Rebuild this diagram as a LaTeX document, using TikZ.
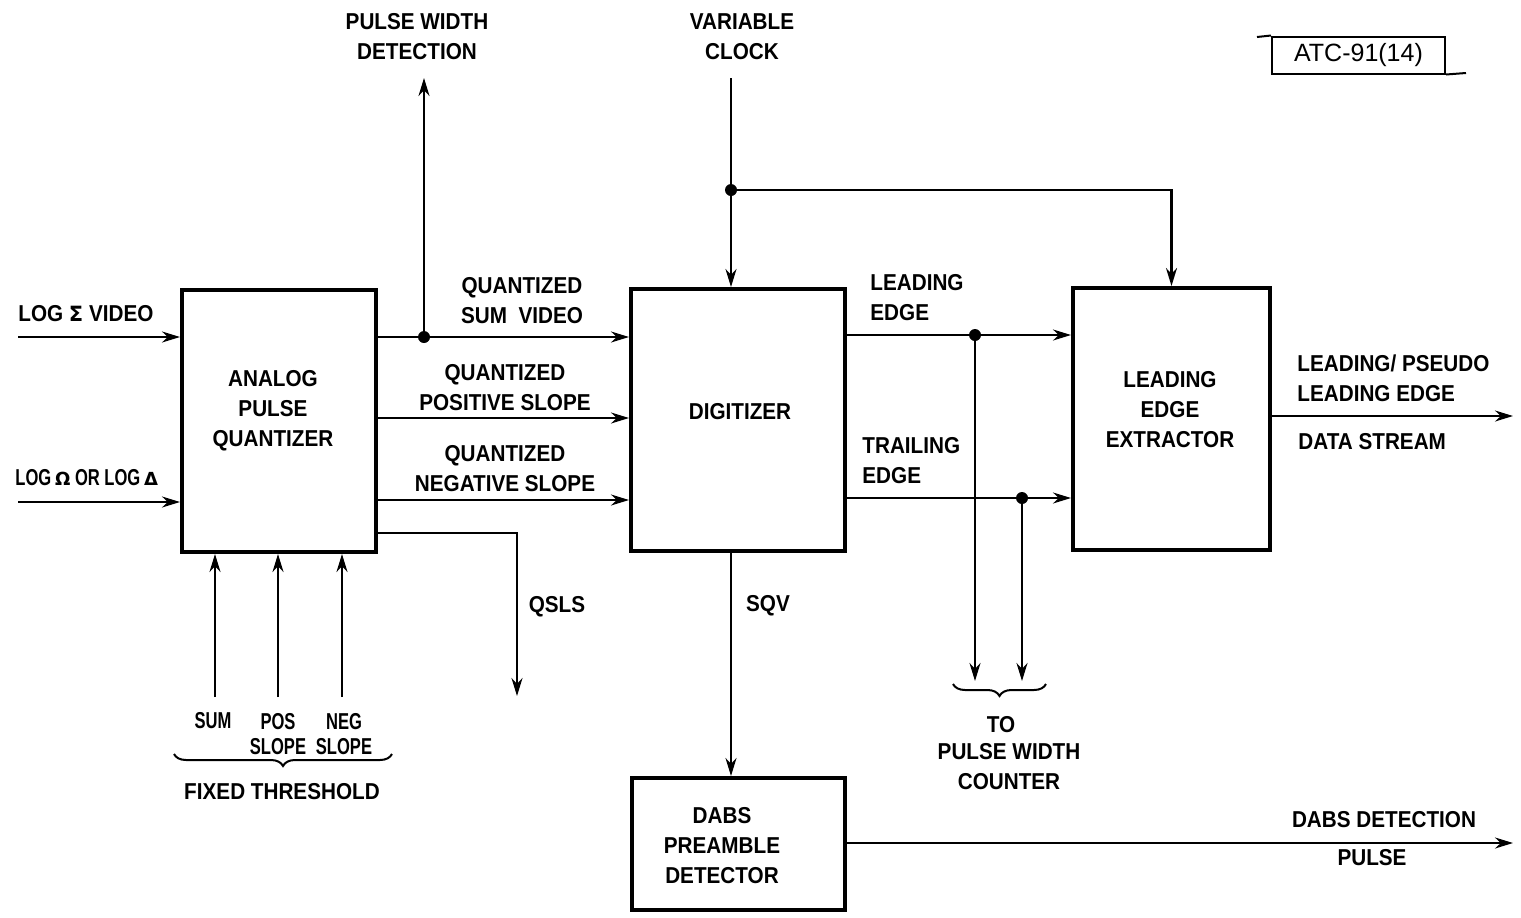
\documentclass[tikz,border=0pt]{standalone}
\usepackage{fontspec}
\newfontfamily\lblfont{Liberation Sans}[FakeStretch=0.9]
\newfontfamily\narrowfont{Liberation Sans}[FakeStretch=0.72]
\newfontfamily\atcfont{Liberation Sans}
\newfontfamily\symfont{DejaVu Sans}
\usetikzlibrary{arrows.meta,decorations.pathreplacing}
\newcommand\dfont{\lblfont\bfseries\fontsize{11.5}{15}\selectfont}
\newcommand\nfont{\narrowfont\bfseries\fontsize{11.5}{12.5}\selectfont}
\begin{document}
\begin{tikzpicture}[x=0.5pt,y=-0.5pt,
  box/.style={draw,line width=2pt,inner sep=0pt},
  txt/.style={font=\dfont,align=center,inner sep=0pt},
  ntxt/.style={font=\nfont,align=center,inner sep=0pt},
  wire/.style={line width=1.1pt},
  arr/.style={wire,-{Stealth[length=9pt,width=5.5pt]}},
  dot/.style={circle,fill,inner sep=0pt,minimum size=6pt},
  brc/.style={line width=1pt,decorate,decoration={brace,mirror,amplitude=6pt}}]
\useasboundingbox (0,0) rectangle (1521,917);

% boxes
\node[box,minimum width=97pt,minimum height=131pt] (apq) at (279,421) {};
\node[box,minimum width=107pt,minimum height=131pt] (dig) at (738,420) {};
\node[box,minimum width=98.5pt,minimum height=131pt] (lee) at (1171.5,419) {};
\node[box,minimum width=106.5pt,minimum height=66pt] (dabs) at (738.5,844) {};

\node[txt] (apqt) at (273,411) {ANALOG\\PULSE\\QUANTIZER};
\node[txt] (digt) at (740,412) {DIGITIZER};
\node[txt] (leet) at (1170,410) {LEADING\\EDGE\\EXTRACTOR};
\node[txt] (dabst) at (722,846) {DABS\\PREAMBLE\\DETECTOR};

% ATC tag
\node[draw,line width=1pt,minimum width=86.5pt,minimum height=18.5pt,inner sep=0pt,
  font=\atcfont\fontsize{12.5}{14}\selectfont] (atc) at (1358.5,55) {ATC-91(14)};
\coordinate (atcl) at (1257,37);
\coordinate (atcr) at (1466,73);
\draw[line width=1pt] (atcl) -- (atc.north west);
\draw[line width=1pt] (atc.south east) -- (atcr);

% inputs
\coordinate (in1) at (18,337);
\coordinate (in2) at (18,502);
\draw[arr] (in1) -- (apq.west |- in1);
\draw[arr] (in2) -- (apq.west |- in2);
\node[txt,anchor=west] (in1t) at (18,314) {LOG {\symfont\bfseries\fontsize{10.5}{12}\selectfont Σ} VIDEO};
\node[ntxt,anchor=west] (in2t) at (15,478) {LOG\,{\symfont\bfseries\fontsize{9}{12}\selectfont Ω} OR LOG\,{\symfont\bfseries\fontsize{9}{12}\selectfont Δ}};

% analog -> digitizer
\coordinate (y1) at (0,337);
\coordinate (y2) at (0,418);
\coordinate (y3) at (0,500);
\coordinate (y4) at (0,533);
\draw[arr] (apq.east |- y1) -- (dig.west |- y1);
\draw[arr] (apq.east |- y2) -- (dig.west |- y2);
\draw[arr] (apq.east |- y3) -- (dig.west |- y3);
\node[dot] (d1) at (424,337) {};
\coordinate (pwd) at (424,78);
\draw[arr] (d1.center) -- (pwd);
\node[txt] (pwdt) at (417,37) {PULSE WIDTH\\DETECTION};
\coordinate (qs) at (517,696);
\draw[arr] (apq.east |- y4) -| (qs);
\node[txt] (qst) at (557,607) {QSLS};

\node[txt] (q1) at (522,301) {QUANTIZED\\SUM\ \ VIDEO};
\node[txt] (q2) at (505,388) {QUANTIZED\\POSITIVE SLOPE};
\node[txt] (q3) at (505,469) {QUANTIZED\\NEGATIVE SLOPE};

% thresholds
\coordinate (t1) at (215,697);
\coordinate (t2) at (278,697);
\coordinate (t3) at (342,697);
\draw[arr] (t1) -- (apq.south -| t1);
\draw[arr] (t2) -- (apq.south -| t2);
\draw[arr] (t3) -- (apq.south -| t3);
\node[ntxt] (t1t) at (213,721) {SUM};
\node[ntxt] (t2t) at (278,734) {POS\\SLOPE};
\node[ntxt] (t3t) at (344,734) {NEG\\SLOPE};
\coordinate (b1l) at (174,754);
\coordinate (b1r) at (392,754);
\draw[brc] (b1l) -- (b1r);
\node[txt] (ftt) at (282,792) {FIXED THRESHOLD};

% variable clock
\coordinate (vc) at (731,78);
\node[txt] (vct) at (742,37) {VARIABLE\\CLOCK};
\draw[arr] (vc) -- (vc |- dig.north);
\node[dot] (d2) at (731,190) {};
\draw[arr] (d2.center) -| (lee.north);

% digitizer -> extractor
\coordinate (y5) at (0,335);
\coordinate (y6) at (0,498);
\draw[arr] (dig.east |- y5) -- (lee.west |- y5);
\draw[arr] (dig.east |- y6) -- (lee.west |- y6);
\node[txt,anchor=west,align=left] (let) at (870,298) {LEADING\\EDGE};
\node[txt,anchor=west,align=left] (tet) at (862,461) {TRAILING\\EDGE};
\node[dot] (d3) at (975,335) {};
\node[dot] (d4) at (1022,498) {};
\coordinate (p1) at (975,681);
\coordinate (p2) at (1022,681);
\draw[arr] (d3.center) -- (p1);
\draw[arr] (d4.center) -- (p2);
\coordinate (b2l) at (953,684);
\coordinate (b2r) at (1046,684);
\draw[brc] (b2l) -- (b2r);
\node[txt] (tot) at (1001,725) {TO};
\node[txt] (pwct) at (1009,767) {PULSE WIDTH\\COUNTER};

% outputs
\coordinate (o1) at (1513,416);
\draw[arr] (lee.east |- o1) -- (o1);
\node[txt,anchor=west,align=left] (o1t) at (1297,378) {LEADING/ PSEUDO\\LEADING EDGE};
\node[txt,anchor=west] (o1b) at (1298,442) {DATA STREAM};

\draw[arr] (dig.south -| vc) -- (dabs.north -| vc);
\node[txt] (sqvt) at (768,606) {SQV};
\coordinate (o2) at (1513,843);
\draw[arr] (dabs.east |- o2) -- (o2);
\node[txt] (o2t) at (1384,820) {DABS DETECTION};
\node[txt] (o2b) at (1372,858) {PULSE};
\end{tikzpicture}
\end{document}
